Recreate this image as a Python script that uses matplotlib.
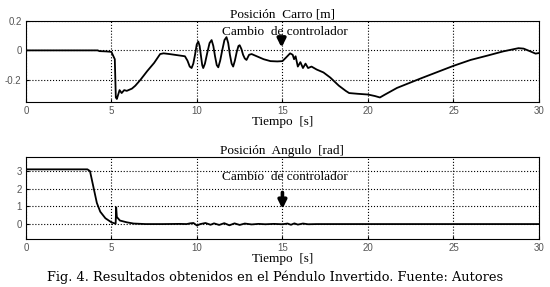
import numpy as np
import matplotlib
matplotlib.use('Agg')
import matplotlib.pyplot as plt

# posicion del carro [m]
t_carro = [0, 4.2, 4.3, 4.7, 5.0, 5.2, 5.26, 5.32, 5.48, 5.6, 5.75, 5.9, 6.2, 6.4,
           6.7, 7.1, 7.5, 7.85, 8.05, 8.4, 8.7, 9.0, 9.3, 9.45, 9.58, 9.69, 9.79,
           9.89, 9.99, 10.08, 10.16, 10.24, 10.31, 10.37, 10.47, 10.6, 10.74,
           10.86, 10.96, 11.06, 11.16, 11.25, 11.36, 11.48, 11.61, 11.73, 11.83,
           11.93, 12.03, 12.12, 12.22, 12.33, 12.43, 12.5, 12.6, 12.7, 12.8,
           12.9, 13.05, 13.2, 13.5, 13.9, 14.3, 14.7, 15.0, 15.2, 15.45, 15.6,
           15.68, 15.77, 15.9, 16.05, 16.2, 16.35, 16.5, 16.7, 17.0, 17.4, 17.8,
           18.3, 18.7, 18.9, 19.4, 20.0, 20.4, 20.7, 21.0, 21.7, 23.1, 25.0,
           26.0, 27.0, 27.9, 28.8, 29.1, 29.5, 29.8, 30.0]
x_carro = [0, 0, -0.005, -0.007, -0.01, -0.06, -0.32, -0.33, -0.27, -0.29, -0.27,
           -0.275, -0.26, -0.24, -0.2, -0.14, -0.085, -0.025, -0.02, -0.025,
           -0.03, -0.035, -0.04, -0.07, -0.11, -0.12, -0.09, -0.03, 0.04, 0.06,
           0.03, -0.04, -0.10, -0.12, -0.09, -0.02, 0.05, 0.07, 0.03, -0.04,
           -0.10, -0.115, -0.07, 0.0, 0.07, 0.09, 0.05, -0.03, -0.09, -0.11,
           -0.07, -0.01, 0.03, 0.035, 0.01, -0.03, -0.055, -0.065, -0.03,
           -0.025, -0.04, -0.06, -0.073, -0.075, -0.073, -0.05, -0.02, -0.03,
           -0.06, -0.04, -0.11, -0.08, -0.12, -0.09, -0.12, -0.11, -0.13, -0.15,
           -0.185, -0.24, -0.275, -0.29, -0.295, -0.3, -0.31, -0.32, -0.3,
           -0.255, -0.19, -0.105, -0.065, -0.035, -0.007, 0.015, 0.012, -0.007,
           -0.022, -0.018]

# posicion del angulo [rad]
t_ang = [0, 3.6, 3.75, 3.95, 4.15, 4.35, 4.65, 5.0, 5.25, 5.28, 5.32, 5.5, 5.9,
         6.3, 7.0, 8.0, 9.0, 9.4, 9.6, 9.8, 10.0, 10.2, 10.5, 10.8, 11.0, 11.3,
         11.6, 11.9, 12.2, 12.5, 12.8, 13.2, 13.6, 14.0, 14.5, 15.0, 15.3, 15.5,
         15.7, 15.9, 16.2, 16.5, 17.0, 20.0, 25.0, 30.0]
th_ang = [3.1, 3.1, 3.0, 2.1, 1.2, 0.7, 0.33, 0.1, 0.02, 0.95, 0.4, 0.2, 0.1,
          0.03, 0.0, 0.0, 0.01, 0.0, 0.04, 0.06, -0.08, 0.0, 0.06, -0.04, 0.04,
          -0.05, 0.05, -0.07, 0.04, -0.05, 0.03, -0.02, 0.01, -0.01, 0.01,
          -0.01, 0.03, -0.04, 0.04, -0.03, 0.03, -0.01, 0.0, 0.0, 0.0, 0.0]

xticks = [0, 5, 10, 15, 20, 25, 30]

fig = plt.figure(figsize=(5.5, 2.87), dpi=100)
ax1 = fig.add_axes([0.047, 0.645, 0.933, 0.282])
ax2 = fig.add_axes([0.047, 0.167, 0.933, 0.286])

def estilo(ax, yticks, ylim):
    ax.set_xlim(0, 30)
    ax.set_ylim(*ylim)
    ax.set_xticks(xticks)
    ax.set_yticks(yticks)
    ax.grid(True, color='black', linestyle=':', linewidth=0.8)
    ax.tick_params(direction='in', length=2, labelsize=7, labelcolor='#555555',
                   pad=3)
    for lab in ax.get_xticklabels() + ax.get_yticklabels():
        lab.set_family('Liberation Sans')
    for s in ax.spines.values():
        s.set_linewidth(0.8)

flecha = dict(arrowstyle='-|>', color='black', lw=2.6, mutation_scale=12)

ax1.plot(t_carro, x_carro, color='black', lw=1.3)
estilo(ax1, [-0.2, 0, 0.2], (-0.35, 0.2))
ax1.set_yticklabels(['-0.2', '0', '0.2'])
ax1.set_title('Posición  Carro [m]', family='Liberation Serif', fontsize=9.5, pad=2)
ax1.set_xlabel('Tiempo  [s]', family='Liberation Serif', fontsize=9.5, labelpad=0)
ax1.text(15.15, 0.127, 'Cambio  de controlador', family='Liberation Serif',
         fontsize=9.5, ha='center', va='center')
ax1.annotate('', xy=(14.95, 0.0), xytext=(14.95, 0.105), arrowprops=flecha)

ax2.plot(t_ang, th_ang, color='black', lw=1.3)
estilo(ax2, [0, 1, 2, 3], (-0.85, 3.8))
ax2.set_title('Posición  Angulo  [rad]', family='Liberation Serif', fontsize=9.5, pad=2)
ax2.set_xlabel('Tiempo  [s]', family='Liberation Serif', fontsize=9.5, labelpad=0)
ax2.text(15.15, 2.65, 'Cambio  de controlador', family='Liberation Serif',
         fontsize=9.5, ha='center', va='center')
ax2.annotate('', xy=(15, 0.7), xytext=(15, 1.95), arrowprops=flecha)

fig.text(0.5, 0.035, 'Fig. 4. Resultados obtenidos en el Péndulo Invertido. Fuente: Autores',
         family='DejaVu Serif', fontsize=9.3, ha='center', va='center')

fig.savefig('out.png', dpi=100)
